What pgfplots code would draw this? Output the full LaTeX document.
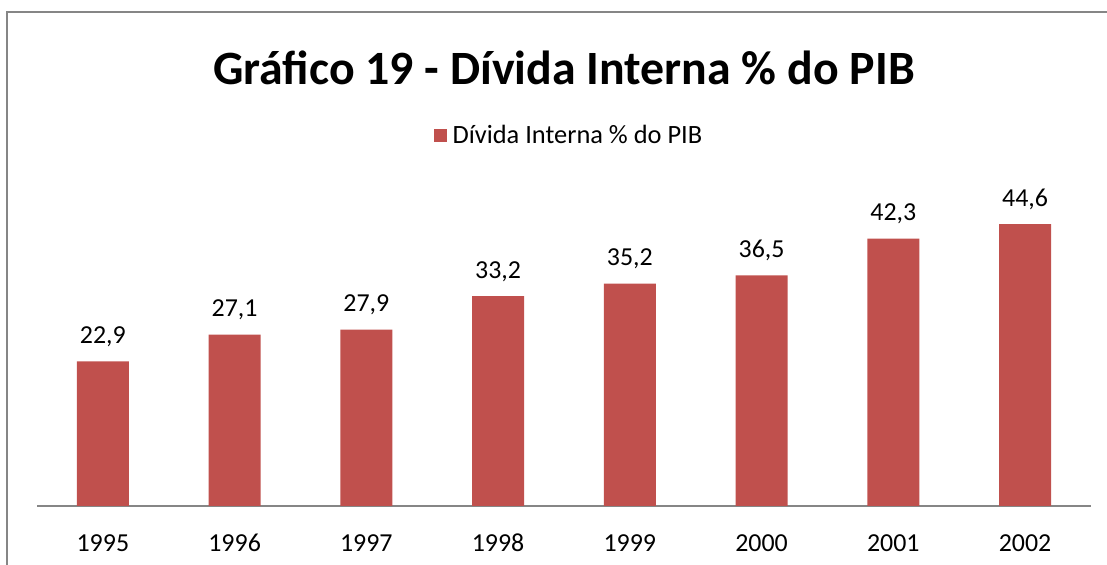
\documentclass[border=0pt]{standalone}
\usepackage{pgfplots}
\pgfplotsset{compat=1.18}
\usepackage{fontspec}
\setmainfont{Carlito}
\definecolor{barred}{HTML}{C0504D}
\definecolor{framegray}{HTML}{868686}
\begin{document}
\begin{tikzpicture}[x=1bp,y=1bp]
\useasboundingbox (0,0) rectangle (1107,565);
\draw[framegray, line width=2bp] (7,-2) -- (7,553) -- (1109,553);
\node[font=\fontsize{48}{56}\selectfont\bfseries] at (564,497) {Gráfico 19 - Dívida Interna \% do PIB};
\begin{axis}[
  at={(37bp,59bp)}, anchor=south west,
  scale only axis, width=1054bp, height=316bp,
  xmin=-0.5, xmax=7.5, ymin=0, ymax=50,
  axis x line=bottom, axis y line=none,
  axis line style={framegray, line width=1.5bp, -},
  xtick=data, xticklabels={1995,1996,1997,1998,1999,2000,2001,2002},
  xtick style={draw=none},
  ticklabel style={font=\fontsize{26}{31}\selectfont},
  /pgf/number format/assume math mode=true,
  xticklabel style={anchor=base, yshift=-41bp},
  ytick=\empty,
  ybar, bar width=52bp,
  nodes near coords,
  nodes near coords style={font=\fontsize{26}{31}\selectfont, anchor=base, yshift=18bp, /pgf/number format/.cd, use comma, fixed, fixed zerofill, precision=1, assume math mode=true},
  legend style={draw=none, at={(0.5047,1.174)}, anchor=center, font=\fontsize{26.5}{31}\selectfont, legend cell align=left},
  legend image code/.code={\fill[barred] (0,-6.5bp) rectangle (13bp,6.5bp); \path (17bp,0);},
  clip=false,
]
\addplot[fill=barred, draw=none] coordinates {(0,22.9) (1,27.1) (2,27.9) (3,33.2) (4,35.2) (5,36.5) (6,42.3) (7,44.6)};
\addlegendentry{Dívida Interna \% do PIB}
\end{axis}
\end{tikzpicture}
\end{document}
